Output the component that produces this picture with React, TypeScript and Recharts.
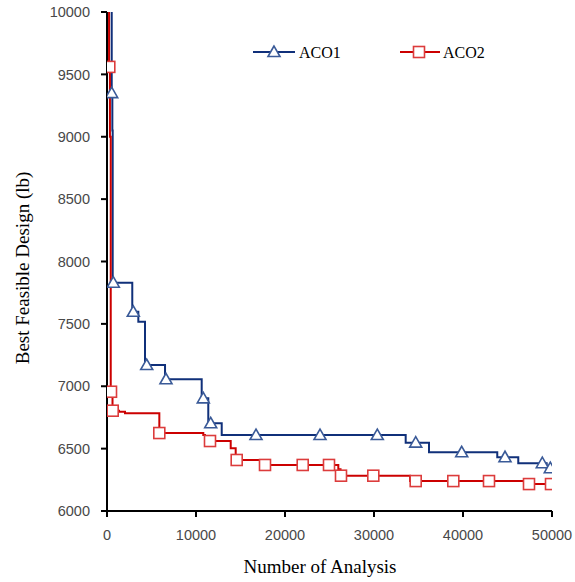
import {
  ComposedChart,
  Label,
  Legend,
  Line,
  Scatter,
  XAxis,
  YAxis,
} from "recharts";

// step curves: each point is where the best design changes to a new value
const aco1Steps = [
  { x: 100, y: 16000 },
  { x: 530, y: 9350 },
  { x: 600, y: 9050 },
  { x: 640, y: 7830 },
  { x: 2840, y: 7597 },
  { x: 3520, y: 7517 },
  { x: 4270, y: 7170 },
  { x: 6520, y: 7056 },
  { x: 10640, y: 6903 },
  { x: 11380, y: 6703 },
  { x: 12890, y: 6609 },
  { x: 33560, y: 6548 },
  { x: 36180, y: 6471 },
  { x: 43850, y: 6431 },
  { x: 46210, y: 6383 },
  { x: 49400, y: 6343 },
  { x: 50000, y: 6343 },
];

const aco2Steps = [
  { x: 100, y: 16000 },
  { x: 230, y: 9560 },
  { x: 330, y: 9000 },
  { x: 420, y: 6956 },
  { x: 620, y: 6804 },
  { x: 1350, y: 6796 },
  { x: 2020, y: 6783 },
  { x: 5880, y: 6625 },
  { x: 10820, y: 6609 },
  { x: 11010, y: 6561 },
  { x: 13900, y: 6503 },
  { x: 14460, y: 6409 },
  { x: 17190, y: 6369 },
  { x: 25990, y: 6334 },
  { x: 26240, y: 6283 },
  { x: 34050, y: 6240 },
  { x: 46850, y: 6216 },
  { x: 50000, y: 6216 },
];

const aco1Markers = [
  { x: 528, y: 9350 },
  { x: 708, y: 7830 },
  { x: 2955, y: 7597 },
  { x: 4461, y: 7170 },
  { x: 6629, y: 7056 },
  { x: 10820, y: 6903 },
  { x: 11652, y: 6703 },
  { x: 16742, y: 6609 },
  { x: 23933, y: 6609 },
  { x: 30371, y: 6609 },
  { x: 34686, y: 6548 },
  { x: 39855, y: 6471 },
  { x: 44719, y: 6431 },
  { x: 48910, y: 6383 },
  { x: 49810, y: 6343 },
];

const aco2Markers = [
  { x: 258, y: 9560 },
  { x: 450, y: 6956 },
  { x: 640, y: 6804 },
  { x: 5876, y: 6625 },
  { x: 11573, y: 6561 },
  { x: 14573, y: 6409 },
  { x: 17753, y: 6369 },
  { x: 21990, y: 6369 },
  { x: 24944, y: 6369 },
  { x: 26292, y: 6283 },
  { x: 29921, y: 6283 },
  { x: 34686, y: 6240 },
  { x: 38910, y: 6240 },
  { x: 42921, y: 6240 },
  { x: 47416, y: 6216 },
  { x: 49888, y: 6216 },
];

const xTicks = [0, 10000, 20000, 30000, 40000, 50000];
const yTicks = [6000, 6500, 7000, 7500, 8000, 8500, 9000, 9500, 10000];

const BLUE = "#10307a";
const BLUE_MARK = "#3a5a98";
const RED = "#cc0000";
const RED_MARK = "#dc3c3c";
const SERIF = '"Liberation Serif", "Times New Roman", serif';
const SANS = '"Liberation Sans", Arial, sans-serif';

function Triangle({ cx, cy }: { cx?: number; cy?: number }) {
  if (cx == null || cy == null) return null;
  return (
    <polygon
      points={`${cx},${cy - 6} ${cx - 6},${cy + 4.5} ${cx + 6},${cy + 4.5}`}
      fill="#fff"
      stroke={BLUE_MARK}
      strokeWidth={1.6}
    />
  );
}

function Square({ cx, cy }: { cx?: number; cy?: number }) {
  if (cx == null || cy == null) return null;
  return (
    <rect x={cx - 5.5} y={cy - 5.5} width={11} height={11} fill="#fff" stroke={RED_MARK} strokeWidth={1.6} />
  );
}

function LegendBox() {
  return (
    <svg width={260} height={20} style={{ overflow: "visible", display: "block" }}>
      <line x1={3} y1={10} x2={45} y2={10} stroke={BLUE} strokeWidth={2} />
      <Triangle cx={24} cy={10} />
      <text x={49} y={15.5} fontFamily={SERIF} fontSize={16} fill="#000">ACO1</text>
      <line x1={150} y1={10} x2={190} y2={10} stroke={RED} strokeWidth={2} />
      <Square cx={169} cy={10} />
      <text x={193} y={15.5} fontFamily={SERIF} fontSize={16} fill="#000">ACO2</text>
    </svg>
  );
}

export default function App() {
  return (
    <div style={{ position: "absolute", left: 0, top: 0, background: "#fff" }}>
      <ComposedChart width={575} height={582} margin={{ top: 12, right: 23, bottom: 31, left: 47 }}>
        <XAxis
          xAxisId="b"
          type="number"
          dataKey="x"
          domain={[0, 50000]}
          ticks={xTicks}
          allowDataOverflow
          height={40}
          axisLine={{ stroke: "#000", strokeWidth: 2 }}
          tickLine={{ stroke: "#000", strokeWidth: 2 }}
          tickSize={6}
          tickMargin={13}
          tick={{ fontSize: 14.5, fontFamily: SANS, fill: "#484848" }}
        >
          <Label
            content={() => (
              <text x={320} y={573} textAnchor="middle" fontFamily={SERIF} fontSize={19} fill="#000">
                Number of Analysis
              </text>
            )}
          />
        </XAxis>
        <XAxis
          xAxisId="t"
          orientation="top"
          type="number"
          domain={[0, 50000]}
          height={0}
          tick={false}
          tickLine={false}
          axisLine={{ stroke: "#000", strokeWidth: 2 }}
        />
        <YAxis
          yAxisId="l"
          type="number"
          domain={[6000, 10000]}
          ticks={yTicks}
          allowDataOverflow
          width={60}
          axisLine={{ stroke: "#000", strokeWidth: 2 }}
          tickLine={{ stroke: "#000", strokeWidth: 2 }}
          tickSize={6}
          tickMargin={11}
          tick={{ fontSize: 14.5, fontFamily: SANS, fill: "#484848" }}
        >
          <Label
            content={() => (
              <text
                x={22}
                y={268}
                transform="rotate(-90 22 268)"
                textAnchor="middle"
                dominantBaseline="central"
                fontFamily={SERIF}
                fontSize={19}
                fill="#000"
              >
                Best Feasible Design (lb)
              </text>
            )}
          />
        </YAxis>
        <YAxis
          yAxisId="r"
          orientation="right"
          type="number"
          domain={[6000, 10000]}
          width={0}
          tick={false}
          tickLine={false}
          axisLine={{ stroke: "#000", strokeWidth: 2 }}
        />
        <YAxis yAxisId="m" type="number" domain={[6000, 10000]} hide />
        {/* middle/center keeps the legend from taking space out of the plot */}
        <Legend
          layout="horizontal"
          verticalAlign="middle"
          align="center"
          content={() => <LegendBox />}
          wrapperStyle={{ position: "absolute", left: 250, top: 42, width: 260, height: 20 }}
        />
        <Line
          xAxisId="b"
          yAxisId="l"
          data={aco1Steps}
          dataKey="y"
          type="stepAfter"
          stroke={BLUE}
          strokeWidth={2}
          dot={false}
          legendType="none"
          isAnimationActive={false}
        />
        <Line
          xAxisId="b"
          yAxisId="l"
          data={aco2Steps}
          dataKey="y"
          type="stepAfter"
          stroke={RED}
          strokeWidth={2}
          dot={false}
          legendType="none"
          isAnimationActive={false}
        />
        <Scatter xAxisId="b" yAxisId="m" data={aco1Markers} dataKey="y" shape={<Triangle />} isAnimationActive={false} />
        <Scatter xAxisId="b" yAxisId="m" data={aco2Markers} dataKey="y" shape={<Square />} isAnimationActive={false} />
      </ComposedChart>
    </div>
  );
}
